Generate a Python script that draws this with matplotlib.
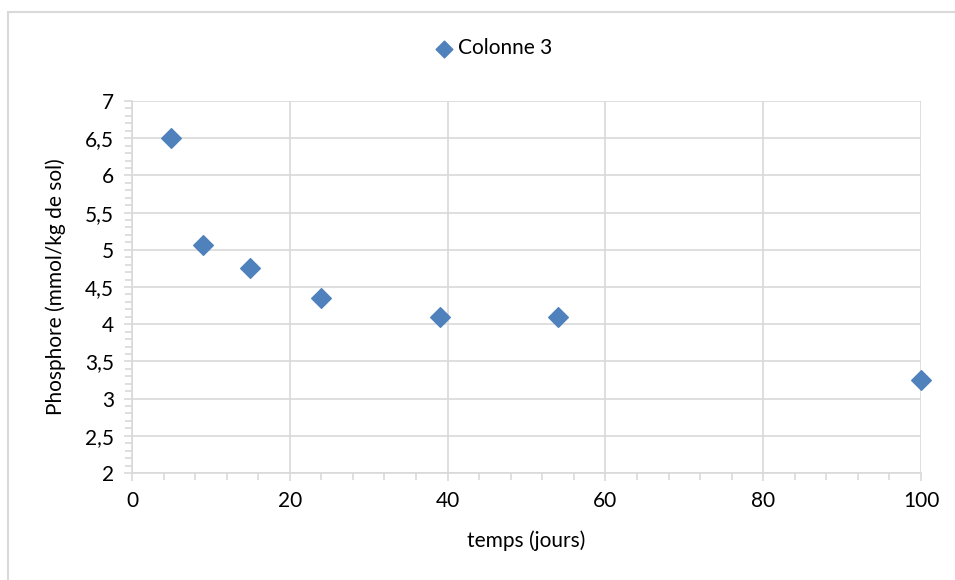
import matplotlib.pyplot as plt
from matplotlib.ticker import MultipleLocator, FuncFormatter
from matplotlib.patches import Rectangle

plt.rcParams['font.family'] = ['Lato', 'DejaVu Sans']

temps = [5, 9, 15, 24, 39, 54, 100]
phosphore = [6.5, 5.06, 4.75, 4.35, 4.1, 4.1, 3.25]

bleu = '#4F81BD'
gris = '#D9D9D9'

fig = plt.figure(figsize=(9.55, 5.8), dpi=100)
ax = fig.add_axes([132 / 955, 107 / 580, 789 / 955, 372 / 580])

# cadre du graphique
haut = 1 - 12 / 580
fig.patches.append(Rectangle((8 / 955, -0.1), 1.1, haut + 0.1, transform=fig.transFigure,
                             fill=False, edgecolor=gris, linewidth=1.5, zorder=0))

ax.scatter(temps, phosphore, marker='D', s=100, color=bleu, label='Colonne 3',
           zorder=3, clip_on=False)

ax.set_xlim(0, 100)
ax.set_ylim(2, 7)
ax.xaxis.set_major_locator(MultipleLocator(20))
ax.xaxis.set_minor_locator(MultipleLocator(4))
ax.yaxis.set_major_locator(MultipleLocator(0.5))
ax.yaxis.set_minor_locator(MultipleLocator(0.1))
ax.yaxis.set_major_formatter(FuncFormatter(lambda v, p: f'{v:g}'.replace('.', ',')))

ax.grid(True, which='major', color=gris, linewidth=1.2)
ax.set_axisbelow(True)
for s in ['top', 'right']:
    ax.spines[s].set_visible(False)
for s in ['left', 'bottom']:
    ax.spines[s].set_color(gris)
    ax.spines[s].set_linewidth(1.2)
ax.tick_params(which='both', direction='out', color=gris, width=1.2, labelsize=15, colors='black')
ax.tick_params(which='major', length=6, pad=7)
ax.tick_params(which='minor', length=5)
ax.tick_params(axis='both', which='both', color=gris)

ax.set_xlabel('temps (jours)', fontsize=15, labelpad=14)
ax.set_ylabel('Phosphore (mmol/kg de sol)', fontsize=15, labelpad=14)

fig.legend(loc='center', bbox_to_anchor=(494 / 955, 1 - 48 / 580), frameon=False,
           fontsize=15, handlelength=0.8, handletextpad=0.3, markerscale=0.85)

fig.savefig('out.png', dpi=100)
